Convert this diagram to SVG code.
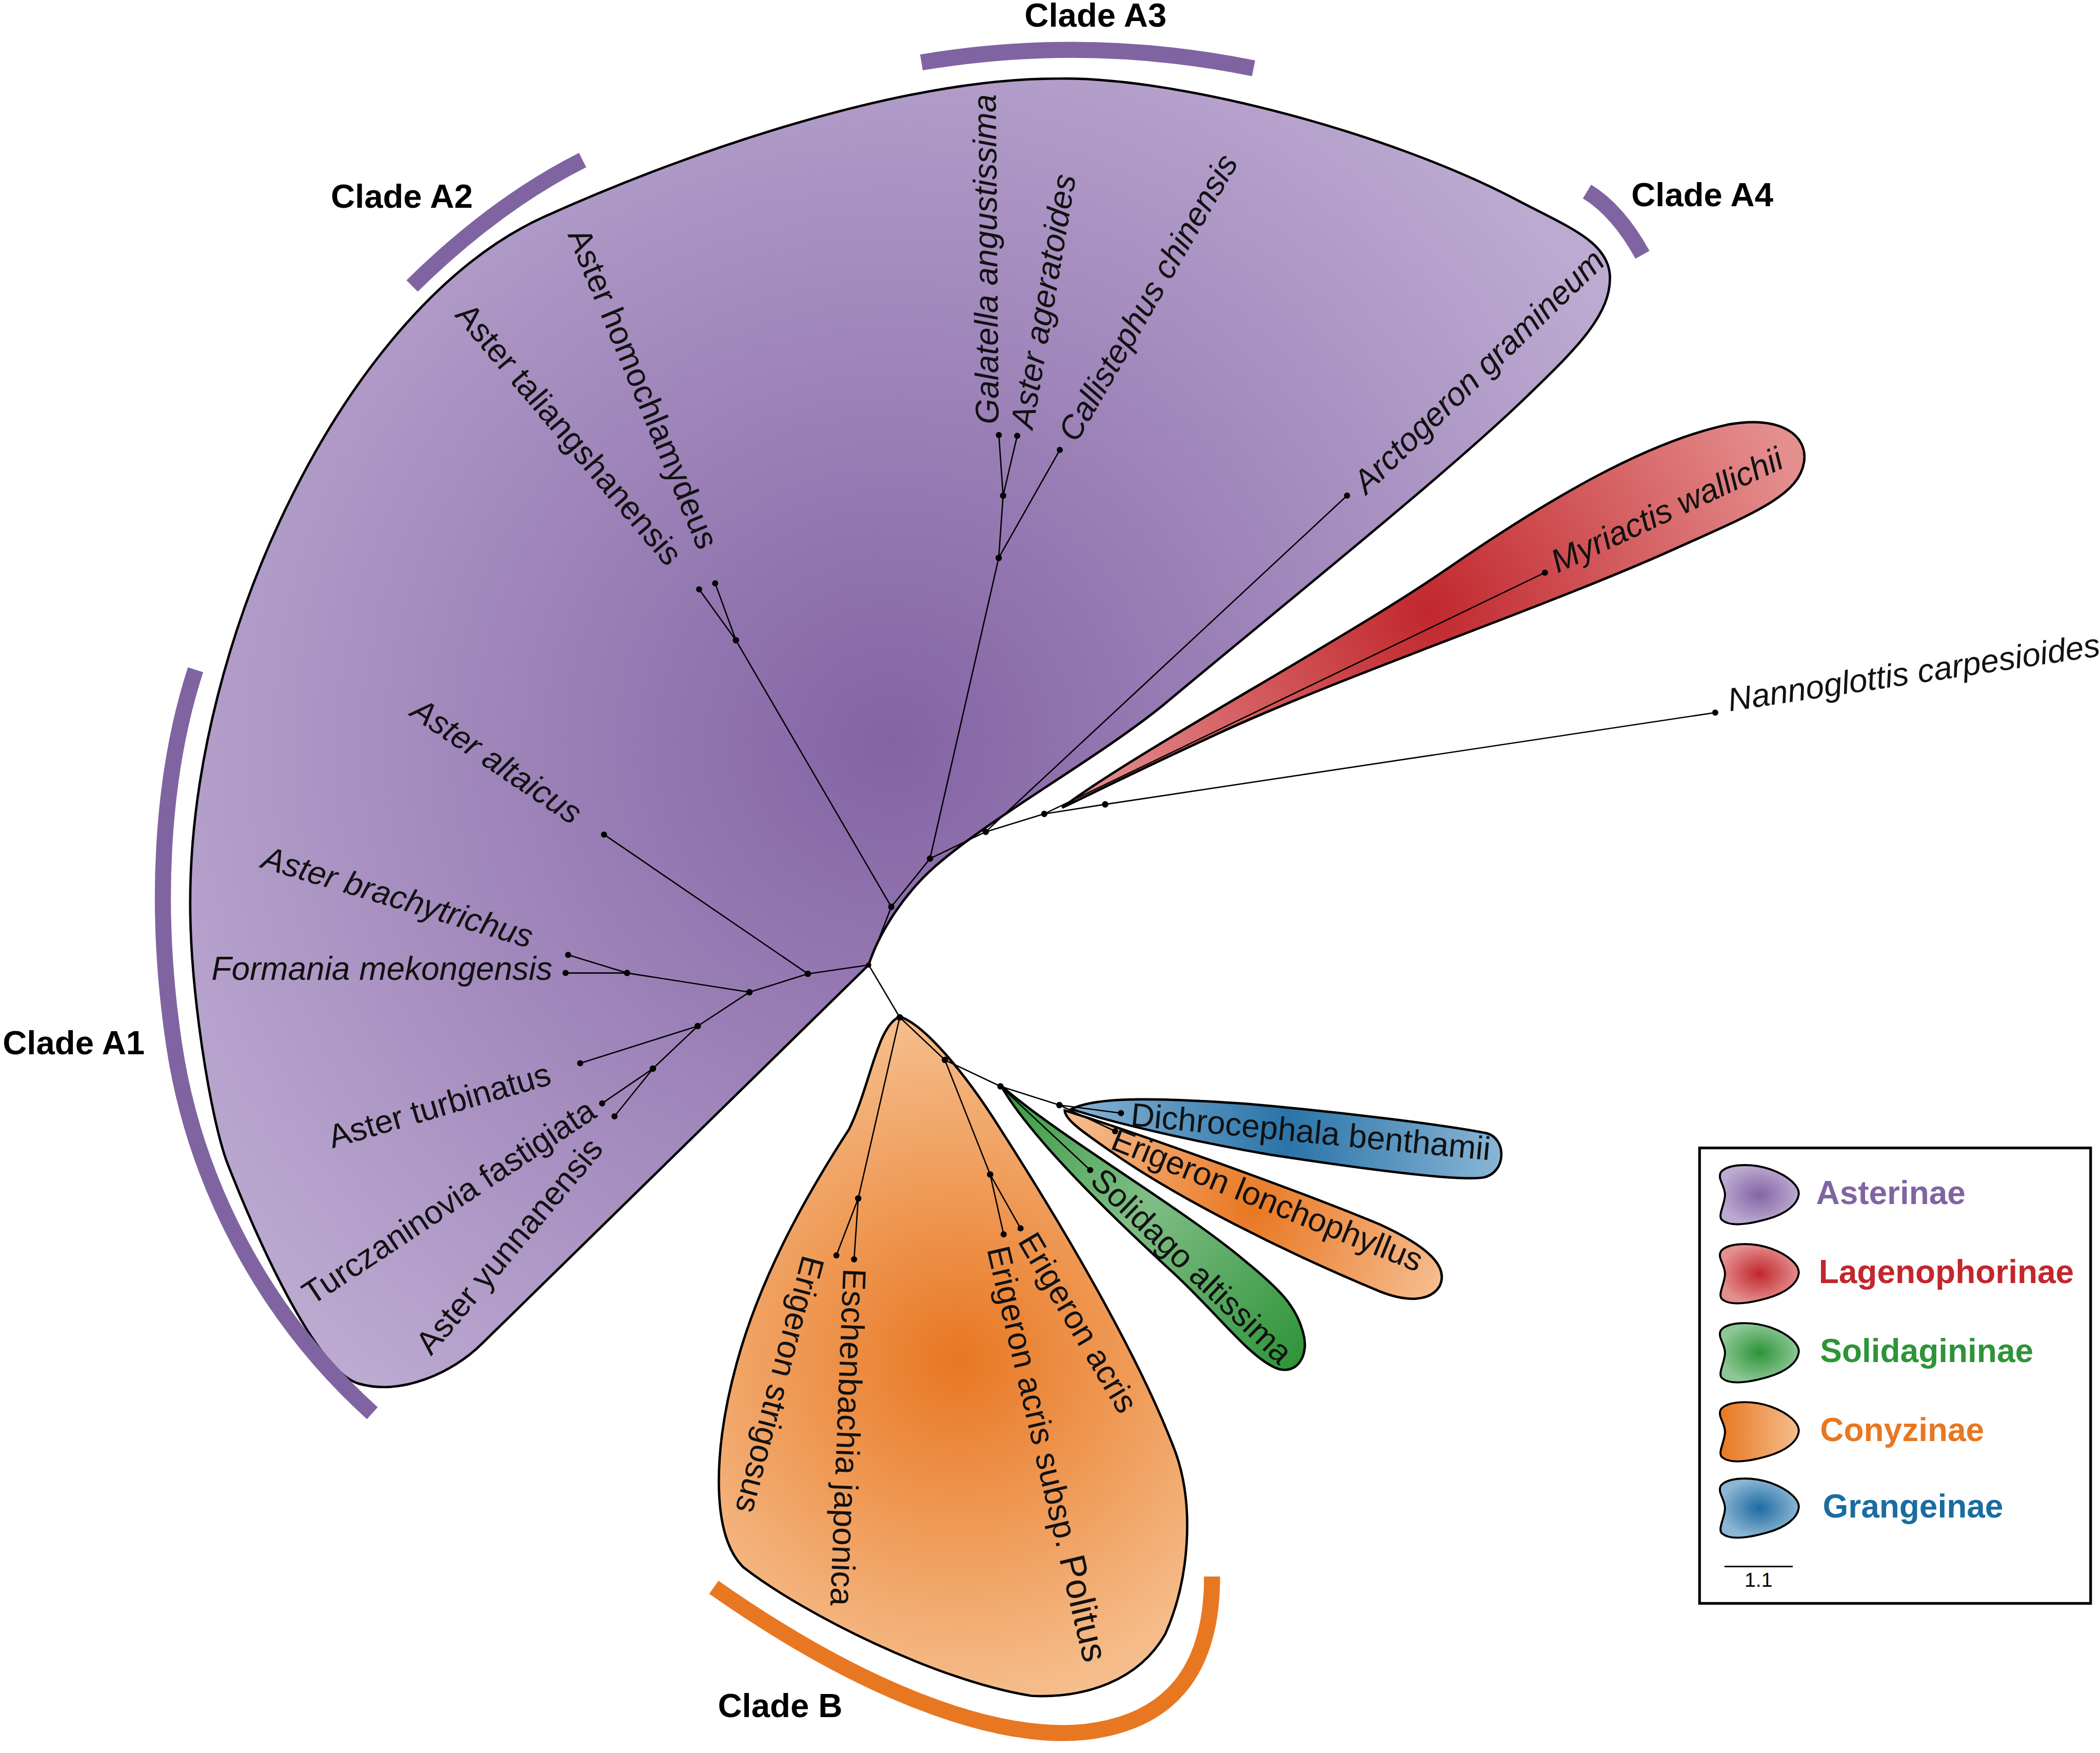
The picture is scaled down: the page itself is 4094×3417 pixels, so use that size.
<svg xmlns="http://www.w3.org/2000/svg" width="4094" height="3417" viewBox="0 0 4094 3417">
<defs>
<radialGradient id="gPur" gradientUnits="userSpaceOnUse" cx="665" cy="555" r="620">
<stop offset="0" stop-color="#8463a4"/><stop offset="1" stop-color="#bcaad1"/>
</radialGradient>
<radialGradient id="gRed" gradientUnits="userSpaceOnUse" cx="1067" cy="456" r="290">
<stop offset="0" stop-color="#c1272d"/><stop offset="1" stop-color="#e48e8e"/>
</radialGradient>
<linearGradient id="gGrn" gradientUnits="userSpaceOnUse" x1="750" y1="812" x2="970" y2="1020">
<stop offset="0" stop-color="#3a9a42"/><stop offset="0.45" stop-color="#80bd86"/><stop offset="1" stop-color="#2e9438"/>
</linearGradient>
<linearGradient id="gBlu" gradientUnits="userSpaceOnUse" x1="800" y1="0" x2="1122" y2="0">
<stop offset="0" stop-color="#86b3d5"/><stop offset="0.5" stop-color="#2a74a8"/><stop offset="1" stop-color="#8ab6d6"/>
</linearGradient>
<radialGradient id="gOrS" gradientUnits="userSpaceOnUse" cx="935" cy="903" r="160">
<stop offset="0" stop-color="#e87722"/><stop offset="1" stop-color="#f6c196"/>
</radialGradient>
<radialGradient id="gOrB" gradientUnits="userSpaceOnUse" cx="715" cy="1015" r="290">
<stop offset="0" stop-color="#e87722"/><stop offset="0.85" stop-color="#f5bb88"/><stop offset="1" stop-color="#f6c196"/>
</radialGradient>
<radialGradient id="lP"><stop offset="0" stop-color="#8464a4"/><stop offset="1" stop-color="#bcaad1"/></radialGradient>
<radialGradient id="lR"><stop offset="0" stop-color="#c1272d"/><stop offset="1" stop-color="#e48e8e"/></radialGradient>
<radialGradient id="lG"><stop offset="0" stop-color="#2e9438"/><stop offset="1" stop-color="#8dc795"/></radialGradient>
<linearGradient id="lO"><stop offset="0" stop-color="#e87722"/><stop offset="1" stop-color="#f5be8e"/></linearGradient>
<radialGradient id="lB"><stop offset="0" stop-color="#1c6ba0"/><stop offset="1" stop-color="#8db6d5"/></radialGradient>
<path id="blob" d="M 3 6 C 8 0, 25 -1, 40 4 C 54 9, 62 17, 61 23 C 60 30, 52 37, 38 41 C 24 45, 10 47, 4 42 C 0 39, 6 30, 6 23 C 6 16, 0 11, 3 6 Z" stroke="#000" stroke-width="1.5"/>
</defs>
<style>
.lbl{font-family:"Liberation Sans",Arial,sans-serif;font-size:24.5px;fill:#111}
.it{font-style:italic}
.clade{font-family:"Liberation Sans",Arial,sans-serif;font-size:25px;font-weight:bold;fill:#000}
.leg{font-family:"Liberation Sans",Arial,sans-serif;font-size:24.5px;font-weight:bold}
.br{stroke:#000;stroke-width:1;fill:none}
.shape{stroke:#000;stroke-width:1.8}
.arc{fill:none;stroke-width:12}
</style>
<rect width="4094" height="3417" fill="#fff"/>
<g transform="scale(2.61097)">

<g id="clade-asterinae">
<path class="shape" fill="url(#gPur)" d="M 648.6 720.4 L 360 1003 C 338 1025, 300 1042, 268 1033 C 236 1024, 192 925, 170 869 C 157 835, 142 740, 142 674 C 142 474, 260 228, 406 162 C 524 108.7, 680 58, 791 58.7 C 880 57.4, 1040 100, 1134 150 C 1170 169, 1200 180, 1202 205 C 1204 235, 1175 262, 1140 296 C 1080 354, 960 450, 869 526 C 820 566, 740 610, 698 647 C 672 670, 655 700, 648.6 720.4 Z"/>
</g>
<g id="clade-lagenophorinae">
<path class="shape" fill="url(#gRed)" d="M 793 603 C 850 560, 1000 480, 1080 425 C 1160 370, 1230 330, 1290 317 C 1330 310, 1350 325, 1347 345 C 1343 370, 1310 383, 1250 410 C 1150 455, 1000 505, 900 552 C 850 575, 810 595, 793 603 Z"/>
</g>
<g id="clade-conyzinae">
<path class="shape" fill="url(#gOrB)" d="M 672 759 C 690 765, 720 800, 747 843 C 790 910, 850 1010, 878 1085 C 892 1125, 888 1180, 870 1220 C 850 1255, 810 1268, 770 1266 C 700 1255, 600 1205, 555 1170 C 530 1145, 533 1080, 550 1018 C 570 945, 610 880, 634 843 C 650 810, 655 765, 672 759 Z"/>
<path class="shape" fill="url(#gOrS)" d="M 795 829 C 840 843, 960 885, 1030 914 C 1065 930, 1082 945, 1075 960 C 1068 972, 1050 972, 1030 964 C 960 935, 880 895, 830 860 C 810 846, 795 836, 795 829 Z"/>
</g>
<g id="clade-solidagininae">
<path class="shape" fill="url(#gGrn)" d="M 747 810 C 770 850, 830 908, 878 952 C 910 982, 932 1012, 952 1021 C 968 1028, 978 1012, 973 995 C 968 975, 955 962, 928 940 C 880 900, 790 848, 747 810 Z"/>
</g>
<g id="clade-grangeinae">
<path class="shape" fill="url(#gBlu)" d="M 800 828 C 820 818, 870 820, 930 824 C 1000 830, 1080 840, 1110 846 C 1125 850, 1125 875, 1108 879 C 1090 882, 1020 873, 948 862 C 890 852, 830 838, 800 828 Z"/>
</g>

<g id="clade-bars">
<path class="arc" stroke="#8064a2" d="M 688 46.6 Q 812 25.8 936 51"/>
<path class="arc" stroke="#8064a2" d="M 307.7 213.5 Q 369.5 152.5 435 119.5"/>
<path class="arc" stroke="#8064a2" d="M 1185 143 Q 1208 157 1226.4 190.2"/>
<path class="arc" stroke="#8064a2" d="M 146 500 C 120 580, 115 680, 130 780 C 145 880, 195 980, 278 1055"/>
<path class="arc" stroke="#e87722" d="M 533 1185 C 640 1260, 740 1300, 810 1293 C 880 1285, 905 1240, 905 1177"/>
<text class="clade" x="818" y="20" text-anchor="middle">Clade A3</text>
<text class="clade" x="247" y="155">Clade A2</text>
<text class="clade" x="1218" y="154">Clade A4</text>
<text class="clade" x="2" y="787">Clade A1</text>
<text class="clade" x="536" y="1282">Clade B</text>
</g>

<g id="connectors">
<path class="br" d="M 648.6 720.4 L 603.2 727 M 603.2 727 L 451 623 M 603.2 727 L 559.6 740.7 L 468.2 726.4 M 468.2 726.4 L 424.2 712.9 M 468.2 726.4 L 422.3 726.4 M 559.6 740.7 L 521 766 M 521 766 L 433.2 793.8 M 521 766 L 487.5 797.8 M 487.5 797.8 L 449.6 823.7 M 487.5 797.8 L 458.8 833.4 M 648.6 720.4 L 665.5 677 M 665.5 677 L 549.5 478 M 549.5 478 L 534 435.5 M 549.5 478 L 522 440 M 665.5 677 L 694.4 641 M 694.4 641 L 745.7 416.5 M 745.7 416.5 L 749 370 M 749 370 L 745.8 324.8 M 749 370 L 759.5 325.4 M 745.7 416.5 L 791.3 335.9 M 694.4 641 L 736 621 M 736 621 L 1005.8 370 M 736 621 L 779.7 607.6 M 779.7 607.6 L 1153.5 427.5 M 779.7 607.6 L 825.2 600.5 M 825.2 600.5 L 1280.7 532 M 648.6 720.4 L 671.8 759.5 M 671.8 759.5 L 640.8 894.7 M 640.8 894.7 L 624.5 937.2 M 640.8 894.7 L 637.7 940.2 M 671.8 759.5 L 705.5 791.3 M 705.5 791.3 L 739.3 876.8 M 739.3 876.8 L 749.4 921.5 M 739.3 876.8 L 762 917 M 705.5 791.3 L 747 811 M 747 811 L 814 873.5 M 747 811 L 791 825 M 791 825 L 837 831 M 791 825 L 832.6 844.5"/>
<g fill="#000">
<circle cx="648.6" cy="720.4" r="2"/><circle cx="603.2" cy="727" r="2.4"/><circle cx="559.6" cy="740.7" r="2.4"/><circle cx="468.2" cy="726.4" r="2.4"/><circle cx="521" cy="766" r="2.4"/><circle cx="487.5" cy="797.8" r="2.4"/><circle cx="665.5" cy="677" r="2.4"/><circle cx="549.5" cy="478" r="2.4"/><circle cx="694.4" cy="641" r="2.4"/><circle cx="745.7" cy="416.5" r="2.4"/><circle cx="749" cy="370" r="2.4"/><circle cx="736" cy="621" r="2.4"/><circle cx="779.7" cy="607.6" r="2.4"/><circle cx="825.2" cy="600.5" r="2.4"/><circle cx="671.8" cy="759.5" r="2.4"/><circle cx="640.8" cy="894.7" r="2.4"/><circle cx="705.5" cy="791.3" r="2.4"/><circle cx="739.3" cy="876.8" r="2.4"/><circle cx="747" cy="811" r="2.4"/><circle cx="791" cy="825" r="2.4"/>
</g>
</g>

<g id="n-galatella-angustissima"><circle cx="745.8" cy="324.8" r="2.3"/><text class="lbl it" transform="translate(736 193.5) rotate(-90.5)" text-anchor="middle" dy="0.35em">Galatella angustissima</text></g>
<g id="n-aster-ageratoides"><circle cx="759.5" cy="325.4" r="2.3"/><text class="lbl it" transform="translate(778.8 224.8) rotate(-80.3)" text-anchor="middle" dy="0.35em">Aster ageratoides</text></g>
<g id="n-callistephus-chinensis"><circle cx="791.3" cy="335.9" r="2.3"/><text class="lbl it" transform="translate(857 222) rotate(-60)" text-anchor="middle" dy="0.35em">Callistephus chinensis</text></g>
<g id="n-arctogeron-gramineum"><circle cx="1005.8" cy="370" r="2.3"/><text class="lbl it" transform="translate(1104 277) rotate(-44)" text-anchor="middle" dy="0.35em">Arctogeron gramineum</text></g>
<g id="n-myriactis-wallichii"><circle cx="1153.5" cy="427.5" r="2.3"/><text class="lbl it" transform="translate(1244.5 380.5) rotate(-25)" text-anchor="middle" dy="0.35em">Myriactis wallichii</text></g>
<g id="n-nannoglottis-carpesioides"><circle cx="1280.7" cy="532" r="2.3"/><text class="lbl it" transform="translate(1291.5 531) rotate(-8.5)">Nannoglottis carpesioides</text></g>
<g id="n-aster-homochlamydeus"><circle cx="534" cy="435.5" r="2.3"/><text class="lbl" transform="translate(480.5 290) rotate(67.5)" text-anchor="middle" dy="0.35em">Aster homochlamydeus</text></g>
<g id="n-aster-taliangshanensis"><circle cx="522" cy="440" r="2.3"/><text class="lbl" transform="translate(425 324) rotate(49.8)" text-anchor="middle" dy="0.35em">Aster taliangshanensis</text></g>
<g id="n-aster-altaicus"><circle cx="451" cy="623" r="2.3"/><text class="lbl it" transform="translate(371 568) rotate(34)" text-anchor="middle" dy="0.35em">Aster altaicus</text></g>
<g id="n-aster-brachytrichus"><circle cx="424.2" cy="712.9" r="2.3"/><text class="lbl it" transform="translate(297 669.5) rotate(16.7)" text-anchor="middle" dy="0.35em">Aster brachytrichus</text></g>
<g id="n-formania-mekongensis"><circle cx="422.3" cy="726.4" r="2.3"/><text class="lbl it" x="412.5" y="731.5" text-anchor="end">Formania mekongensis</text></g>
<g id="n-aster-turbinatus"><circle cx="433.2" cy="793.8" r="2.3"/><text class="lbl" transform="translate(328 825) rotate(-16.3)" text-anchor="middle" dy="0.35em">Aster turbinatus</text></g>
<g id="n-turczaninovia-fastigiata"><circle cx="449.6" cy="823.7" r="2.3"/><text class="lbl" transform="translate(335 897) rotate(-33.5)" text-anchor="middle" dy="0.35em">Turczaninovia fastigiata</text></g>
<g id="n-aster-yunnanensis"><circle cx="458.8" cy="833.4" r="2.3"/><text class="lbl" transform="translate(380 930) rotate(-50)" text-anchor="middle" dy="0.35em">Aster yunnanensis</text></g>
<g id="n-dichrocephala-benthamii"><circle cx="837" cy="831" r="2.3"/><text class="lbl" transform="translate(843.7 840.3) rotate(5.5)">Dichrocephala benthamii</text></g>
<g id="n-erigeron-lonchophyllus"><circle cx="832.6" cy="844.5" r="2.3"/><text class="lbl" transform="translate(946.3 895.5) rotate(21.9)" text-anchor="middle" dy="0.35em">Erigeron lonchophyllus</text></g>
<g id="n-solidago-altissima"><circle cx="814" cy="873.5" r="2.3"/><text class="lbl" transform="translate(890 945) rotate(43.9)" text-anchor="middle" dy="0.35em">Solidago altissima</text></g>
<g id="n-erigeron-acris"><circle cx="762" cy="917" r="2.3"/><text class="lbl" transform="translate(805.2 987.3) rotate(59.5)" text-anchor="middle" dy="0.35em">Erigeron acris</text></g>
<g id="n-erigeron-acris-politus"><circle cx="749.4" cy="921.5" r="2.3"/><text class="lbl" transform="translate(781.4 1085.4) rotate(76.8)" text-anchor="middle" dy="0.35em">Erigeron acris subsp. <tspan font-size="27">Politus</tspan></text></g>
<g id="n-eschenbachia-japonica"><circle cx="637.7" cy="940.2" r="2.3"/><text class="lbl" transform="translate(633.4 1073) rotate(92.2)" text-anchor="middle" dy="0.35em">Eschenbachia japonica</text></g>
<g id="n-erigeron-strigosus"><circle cx="624.5" cy="937.2" r="2.3"/><text class="lbl" transform="translate(582.5 1033.8) rotate(104.8)" text-anchor="middle" dy="0.35em">Erigeron strigosus</text></g>

<g id="legend">
<rect x="1269" y="857" width="292" height="340" fill="#fff" stroke="#000" stroke-width="2"/>
<use href="#blob" x="1282" y="869" fill="url(#lP)"/>
<use href="#blob" x="1282" y="928" fill="url(#lR)"/>
<use href="#blob" x="1282" y="987" fill="url(#lG)"/>
<use href="#blob" x="1282" y="1046" fill="url(#lO)"/>
<use href="#blob" x="1282" y="1103" fill="url(#lB)"/>
<text class="leg" x="1356" y="899" fill="#8064a2">Asterinae</text>
<text class="leg" x="1358" y="958" fill="#c1272d">Lagenophorinae</text>
<text class="leg" x="1359" y="1017" fill="#2e9438">Solidagininae</text>
<text class="leg" x="1359" y="1076" fill="#e87722">Conyzinae</text>
<text class="leg" x="1361" y="1133" fill="#1a6ca0">Grangeinae</text>
<line x1="1287.6" y1="1169.5" x2="1338.6" y2="1169.5" stroke="#000" stroke-width="1.2"/>
<text x="1313" y="1184.5" text-anchor="middle" font-family="'Liberation Sans',Arial,sans-serif" font-size="15" fill="#000">1.1</text>
</g>
</g>
</svg>
